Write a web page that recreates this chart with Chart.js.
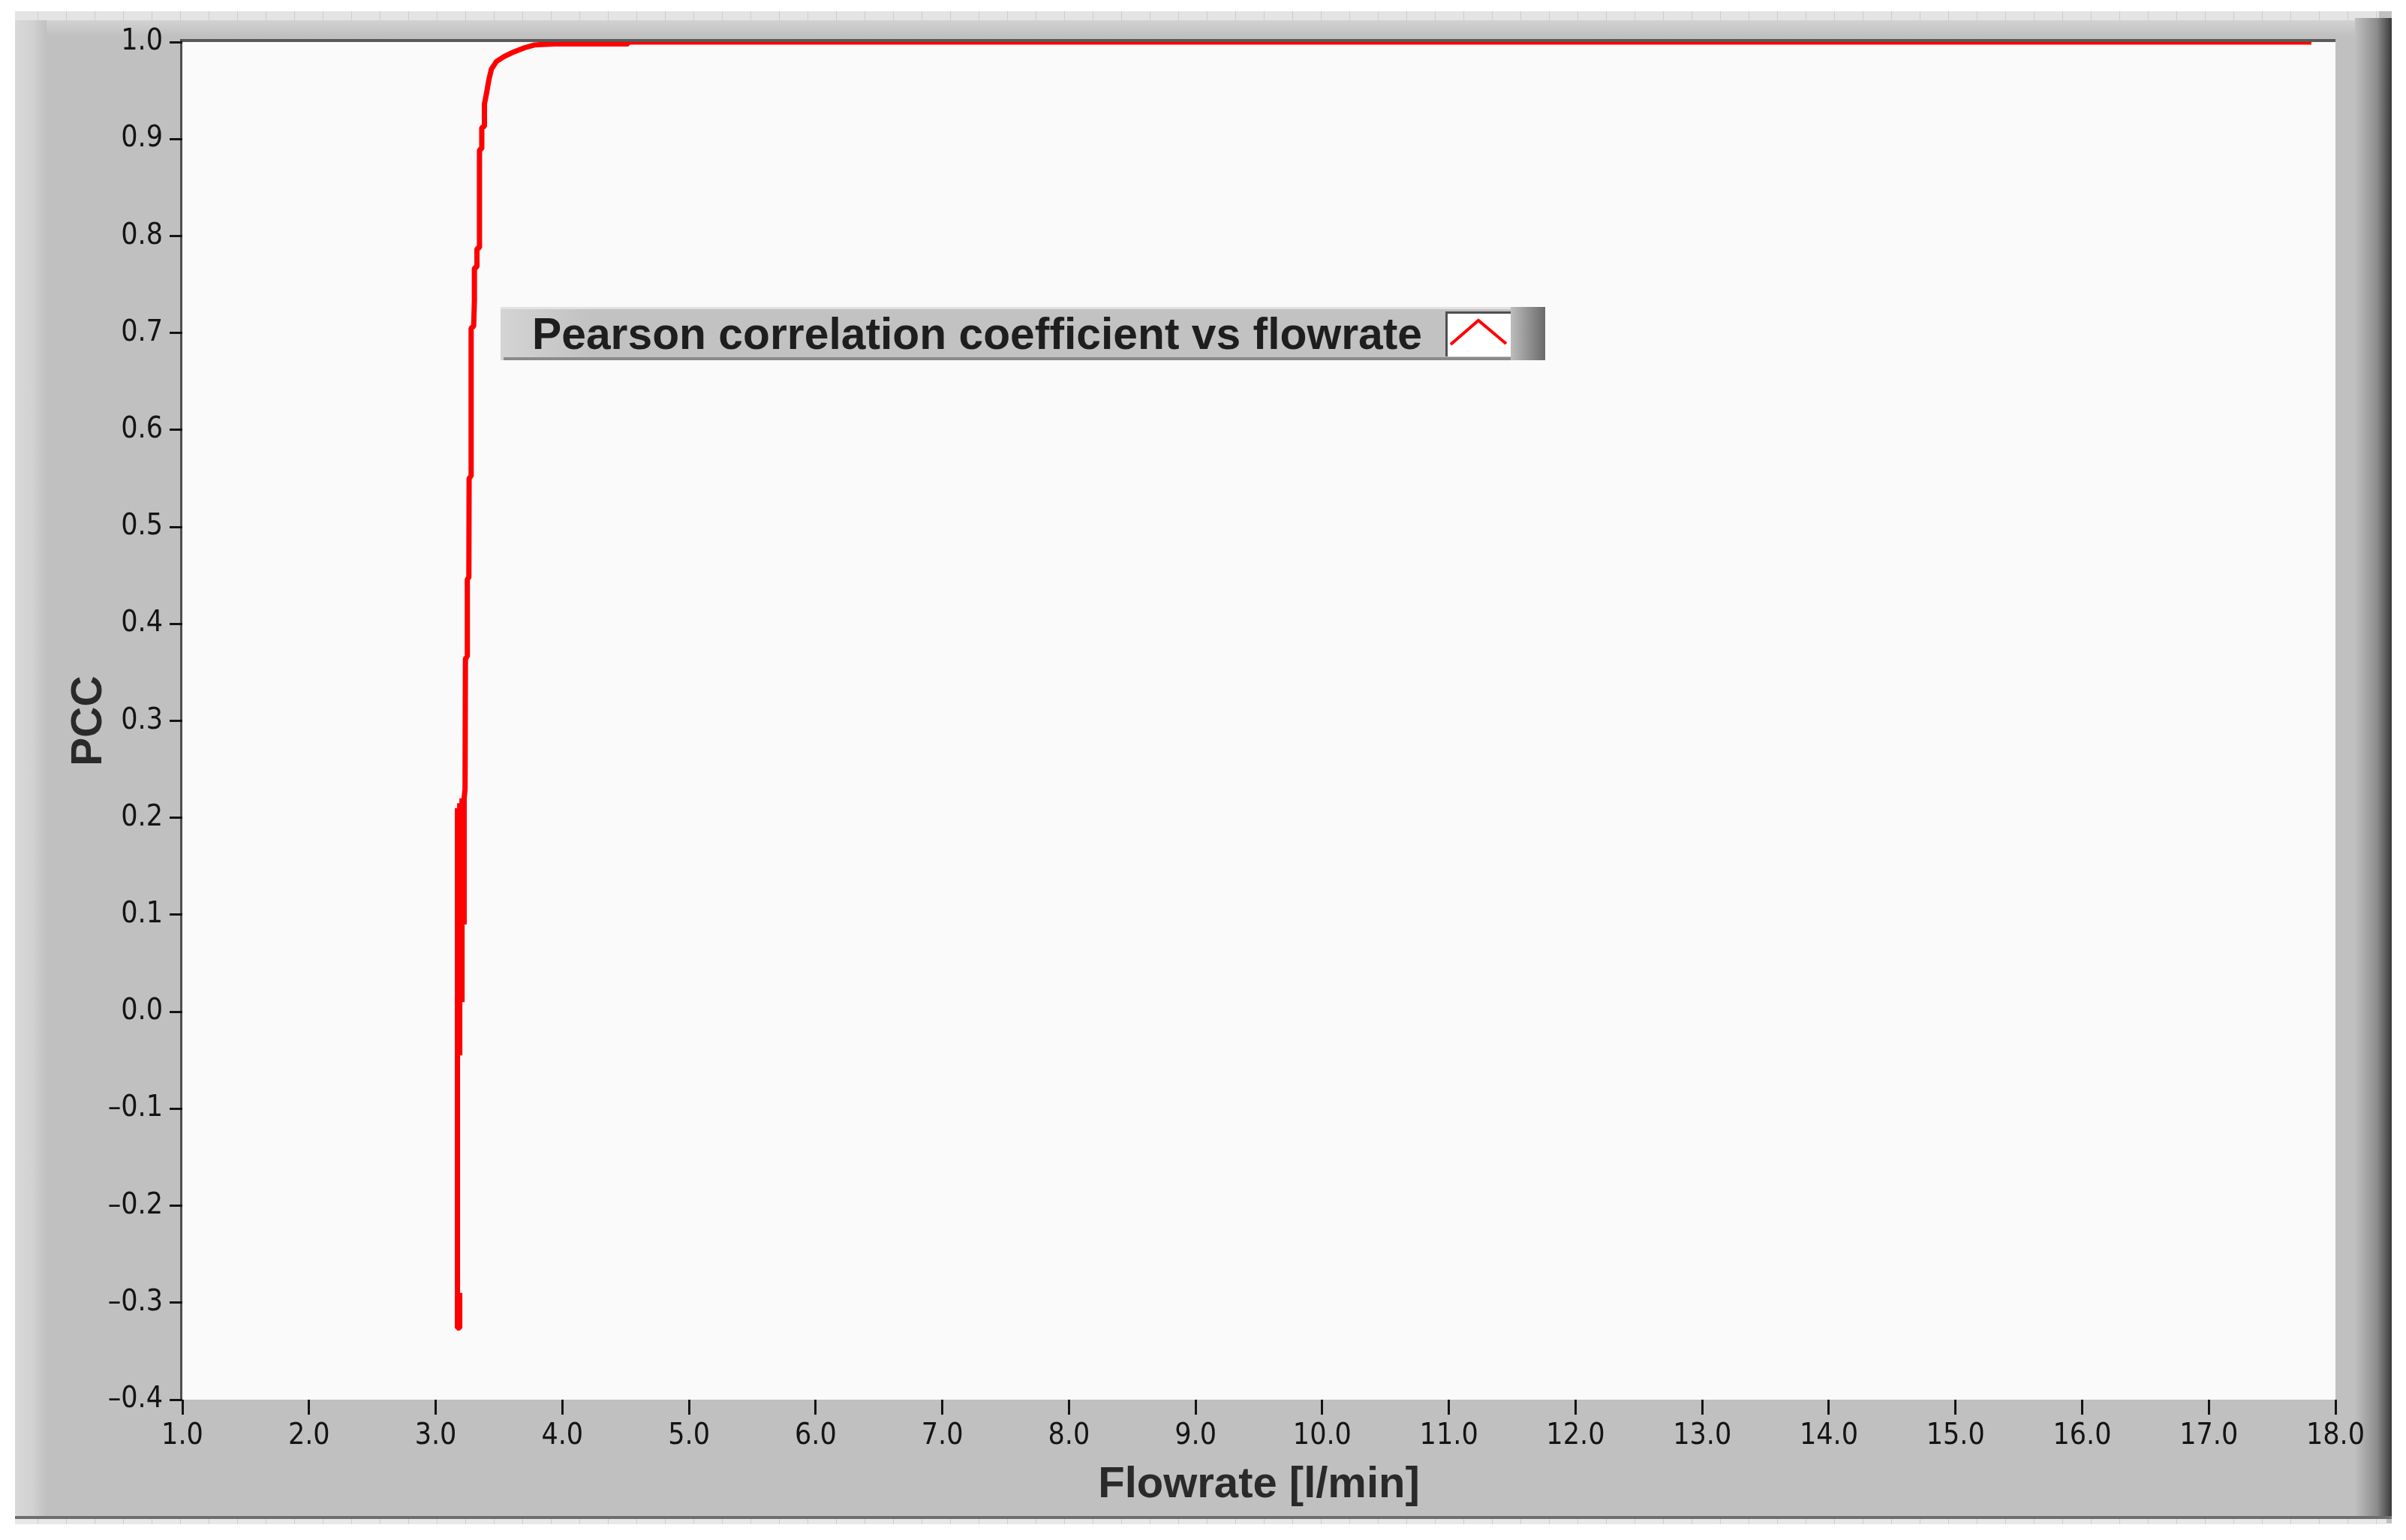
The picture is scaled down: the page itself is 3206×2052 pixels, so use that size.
<!DOCTYPE html>
<html>
<head>
<meta charset="utf-8">
<title>PCC vs flowrate</title>
<script src="https://cdn.jsdelivr.net/npm/chart.js@4.4.1/dist/chart.umd.min.js"></script>
<style>
  html, body { margin: 0; padding: 0; background: #ffffff; }
  canvas { display: block; }
</style>
</head>
<body>
<canvas id="pcc" width="3206" height="2052"></canvas>
<script>
// values
const seriesLabel = 'Pearson correlation coefficient vs flowrate';
const flowrate = [3.19, 3.19, 3.172, 3.172, 3.19, 3.19, 3.208, 3.208, 3.225, 3.225,
  3.232, 3.235, 3.248, 3.25, 3.262, 3.264, 3.278, 3.28, 3.30, 3.306,
  3.306, 3.326, 3.326, 3.346, 3.346, 3.364, 3.364, 3.385, 3.385, 3.40,
  3.42, 3.44, 3.48, 3.54, 3.62, 3.70, 3.78, 3.94, 4.52, 4.52,
  6.0, 8.0, 10.0, 12.0, 14.0, 16.0, 17.81];
const pcc = [-0.29, -0.326, -0.326, 0.21, -0.045, 0.215, 0.01, 0.22, 0.09, 0.22,
  0.23, 0.364, 0.366, 0.446, 0.448, 0.55, 0.552, 0.705, 0.707, 0.734,
  0.767, 0.768, 0.787, 0.788, 0.889, 0.89, 0.912, 0.913, 0.936, 0.946,
  0.961, 0.972, 0.98, 0.985, 0.99, 0.994, 0.997, 0.998, 0.998, 1.0,
  1.0, 1.0, 1.0, 1.0, 1.0, 1.0, 1.0];
const xTicks = [1, 2, 3, 4, 5, 6, 7, 8, 9, 10, 11, 12, 13, 14, 15, 16, 17, 18];
const yTicks = [-0.4, -0.3, -0.2, -0.1, 0, 0.1, 0.2, 0.3, 0.4, 0.5, 0.6, 0.7, 0.8, 0.9, 1.0];

const tickFont = { family: '"Liberation Sans Narrow", "DejaVu Sans Condensed", "Liberation Sans", Arial, sans-serif', size: 39 };
const boldFont = '"Liberation Sans", Arial, sans-serif';

function fmt(v) {
  if (Math.abs(v) < 1e-9) return '0.0';
  return v.toFixed(1).replace('-', '\u2013');
}

// grey LabVIEW panel behind everything
const panel = {
  id: 'panel',
  beforeDraw(chart) {
    const ctx = chart.ctx;
    const a = chart.chartArea;
    ctx.save();
    ctx.fillStyle = '#ffffff';
    ctx.fillRect(0, 0, chart.width, chart.height);
    ctx.fillStyle = '#c0c0c0';
    ctx.fillRect(20, 15, 3167, 2015);

    // top strip
    let g = ctx.createLinearGradient(0, 27, 0, 48);
    g.addColorStop(0, '#d2d2d2');
    g.addColorStop(1, '#c0c0c0');
    ctx.fillStyle = g;
    ctx.fillRect(20, 27, 3167, 21);
    ctx.fillStyle = '#e4e4e4';
    ctx.fillRect(20, 15, 3150, 12);
    ctx.fillStyle = '#e8e8e8';
    ctx.fillRect(20, 2024, 3160, 7);
    ctx.strokeStyle = '#cdcdcd';
    ctx.lineWidth = 1;
    for (let x = 50; x < 3170; x += 38) {
      ctx.beginPath();
      ctx.moveTo(x + 0.5, 15); ctx.lineTo(x + 0.5, 27);
      ctx.moveTo(x + 0.5, 2024); ctx.lineTo(x + 0.5, 2031);
      ctx.stroke();
    }

    // left strip
    g = ctx.createLinearGradient(20, 0, 62, 0);
    g.addColorStop(0, '#d8d8d8');
    g.addColorStop(0.55, '#d2d2d2');
    g.addColorStop(1, '#c0c0c0');
    ctx.fillStyle = g;
    ctx.fillRect(20, 27, 42, 1995);

    // right shadow
    g = ctx.createLinearGradient(3138, 0, 3187, 0);
    g.addColorStop(0, '#c0c0c0');
    g.addColorStop(0.6, '#8c8c8c');
    g.addColorStop(1, '#3a3a3a');
    ctx.fillStyle = g;
    ctx.fillRect(3138, 24, 49, 2000);

    // bottom edge
    ctx.fillStyle = '#6e6e6e';
    ctx.fillRect(20, 2020, 3167, 4);

    // plot area
    ctx.fillStyle = '#fafafa';
    ctx.fillRect(a.left, a.top, a.right - a.left, a.bottom - a.top);
    ctx.fillStyle = '#5a5a5a';
    ctx.fillRect(a.left - 3, a.top - 4, a.right - a.left + 3, 4);
    ctx.fillStyle = '#4e4e4e';
    ctx.fillRect(a.left - 3, a.top - 4, 3, a.bottom - a.top + 4);
    ctx.restore();
  }
};

// floating legend box of the graph
const plotLegend = {
  id: 'plotLegend',
  afterDraw(chart) {
    const ctx = chart.ctx;
    const ds = chart.data.datasets[0];
    const x0 = 667, y0 = 409, x1 = 2059, y1 = 480;
    ctx.save();
    let g = ctx.createLinearGradient(x0, 0, x0 + 120, 0);
    g.addColorStop(0, '#d4d4d4');
    g.addColorStop(1, '#c2c2c2');
    ctx.fillStyle = g;
    ctx.fillRect(x0, y0, x1 - x0, y1 - y0);
    ctx.fillStyle = '#e2e2e2';
    ctx.fillRect(x0, y0, x1 - x0, 3);
    ctx.fillStyle = '#8a8a8a';
    ctx.fillRect(x0 + 4, y1 - 4, x1 - x0 - 4, 4);

    g = ctx.createLinearGradient(2013, 0, x1, 0);
    g.addColorStop(0, '#bdbdbd');
    g.addColorStop(1, '#6a6a6a');
    ctx.fillStyle = g;
    ctx.fillRect(2013, y0, x1 - 2013, y1 - y0);

    ctx.fillStyle = '#ffffff';
    ctx.fillRect(1926, 415, 87, 60);
    ctx.fillStyle = '#505050';
    ctx.fillRect(1926, 415, 87, 3);
    ctx.fillRect(1926, 415, 3, 60);

    ctx.strokeStyle = ds.borderColor;
    ctx.lineWidth = 4;
    ctx.lineJoin = 'miter';
    ctx.beginPath();
    ctx.moveTo(1933, 459);
    ctx.lineTo(1970, 427);
    ctx.lineTo(2007, 458);
    ctx.stroke();

    ctx.fillStyle = '#1e1e1e';
    ctx.font = 'bold 59px ' + boldFont;
    ctx.textBaseline = 'alphabetic';
    ctx.textAlign = 'left';
    ctx.fillText(ds.label, 709, 465, 1186);
    ctx.restore();
  }
};

const points = flowrate.map((f, i) => ({ x: f, y: pcc[i] }));

new Chart(document.getElementById('pcc'), {
  type: 'line',
  data: {
    datasets: [{
      label: seriesLabel,
      data: points,
      borderColor: '#ff0000',
      borderWidth: 7,
      borderJoinStyle: 'bevel',
      borderCapStyle: 'butt',
      pointRadius: 0,
      tension: 0,
      fill: false
    }]
  },
  options: {
    responsive: false,
    animation: false,
    devicePixelRatio: 1,
    layout: { padding: { left: 0, right: 94, top: 56, bottom: 0 } },
    plugins: { legend: { display: false }, tooltip: { enabled: false } },
    scales: {
      x: {
        type: 'linear',
        position: 'bottom',
        min: xTicks[0],
        max: xTicks[xTicks.length - 1],
        afterBuildTicks: s => { s.ticks = xTicks.map(v => ({ value: v })); },
        afterFit: s => { s.height = 187; },
        ticks: {
          callback: v => fmt(v),
          font: tickFont,
          color: '#141414',
          maxRotation: 0,
          autoSkip: false,
          padding: 5
        },
        grid: { drawOnChartArea: false, drawTicks: true, tickLength: 20, tickWidth: 3, tickColor: '#141414' },
        border: { display: false },
        title: {
          display: true,
          text: 'Flowrate [l/min]',
          color: '#2a2a2a',
          font: { family: boldFont, size: 58, weight: 'bold' },
          padding: { top: 0, bottom: 38 }
        }
      },
      y: {
        type: 'linear',
        min: yTicks[0],
        max: yTicks[yTicks.length - 1],
        afterBuildTicks: s => { s.ticks = yTicks.map(v => ({ value: v })); },
        afterFit: s => { s.width = 243; },
        ticks: {
          callback: v => fmt(v),
          font: tickFont,
          color: '#141414',
          autoSkip: false,
          padding: 9
        },
        grid: { drawOnChartArea: false, drawTicks: true, tickLength: 17, tickWidth: 3, tickColor: '#141414' },
        border: { display: false },
        title: {
          display: true,
          text: 'PCC',
          color: '#2a2a2a',
          font: { family: boldFont, size: 57, weight: 'bold' },
          padding: { top: 85, bottom: 0 }
        }
      }
    }
  },
  plugins: [panel, plotLegend]
});
</script>
</body>
</html>
